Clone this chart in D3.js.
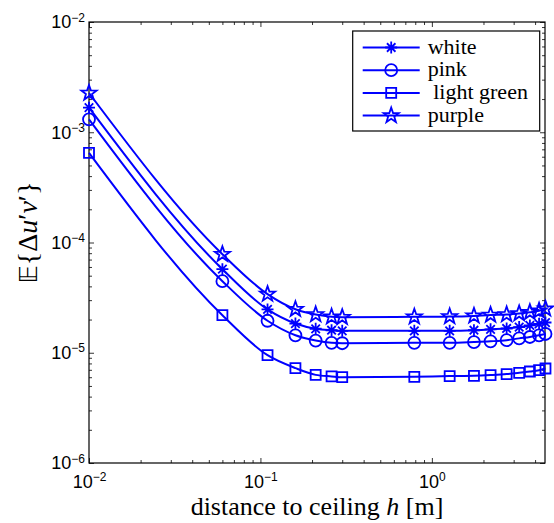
<!DOCTYPE html>
<html>
<head>
<meta charset="utf-8">
<script src="https://cdn.jsdelivr.net/npm/d3@7"></script>
<style>
  body { margin: 0; background: #fff; }
  svg { display: block; }
</style>
</head>
<body>
<div id="chart"></div>
<script>
// distance to ceiling h [m]
const distances = [0.01, 0.06, 0.11, 0.16, 0.21, 0.26, 0.3, 0.79, 1.27, 1.76, 2.2, 2.73, 3.23, 3.73, 4.22, 4.6];

// E{Δu'v'} per colour
const white = [1.67e-3, 5.73e-5, 2.47e-5, 1.84e-5, 1.65e-5, 1.60e-5, 1.58e-5, 1.58e-5, 1.58e-5, 1.60e-5, 1.63e-5, 1.66e-5, 1.71e-5, 1.77e-5, 1.83e-5, 1.88e-5];
const pink = [1.31e-3, 4.46e-5, 1.95e-5, 1.44e-5, 1.29e-5, 1.23e-5, 1.22e-5, 1.23e-5, 1.23e-5, 1.25e-5, 1.27e-5, 1.30e-5, 1.35e-5, 1.39e-5, 1.44e-5, 1.48e-5];
const lightGreen = [6.49e-4, 2.19e-5, 9.5e-6, 7.25e-6, 6.3e-6, 6.1e-6, 6.0e-6, 6.05e-6, 6.14e-6, 6.18e-6, 6.27e-6, 6.4e-6, 6.58e-6, 6.76e-6, 6.95e-6, 7.2e-6];
const purple = [2.27e-3, 7.83e-5, 3.40e-5, 2.48e-5, 2.22e-5, 2.12e-5, 2.1e-5, 2.12e-5, 2.13e-5, 2.16e-5, 2.2e-5, 2.22e-5, 2.27e-5, 2.33e-5, 2.4e-5, 2.5e-5];

const seriesNames = ["white", "pink", " light green", "purple"];
const seriesMarkers = ["asterisk", "circle", "square", "star"];

const xTicks = [0.01, 0.1, 1];
const xTickExp = ["−2", "−1", "0"];
const yTicks = [1e-6, 1e-5, 1e-4, 1e-3, 1e-2];
const yTickExp = ["−6", "−5", "−4", "−3", "−2"];

const margin = {top: 22, right: 9, bottom: 60, left: 89};
const width = 554 - margin.left - margin.right;
const height = 523 - margin.top - margin.bottom;
const blue = "#0000ff";

const svg = d3.select("#chart")
    .append("svg")
    .attr("width", 554)
    .attr("height", 523)
    .append("g")
    .attr("transform", `translate(${margin.left}, ${margin.top})`);

const x = d3.scaleLog().domain([0.01, 4.57]).range([0, width]);
const y = d3.scaleLog().domain([1e-6, 1e-2]).range([height, 0]);

// minor tick values (2..9 per decade)
const minorX = [];
for (let e = -2; e <= 0; e++) for (let k = 2; k <= 9; k++) {
    const v = k * Math.pow(10, e);
    if (v < 4.57) minorX.push(v);
}
const minorY = [];
for (let e = -6; e <= -3; e++) for (let k = 2; k <= 9; k++) minorY.push(k * Math.pow(10, e));

// frame
svg.append("rect")
    .attr("width", width)
    .attr("height", height)
    .attr("fill", "none")
    .attr("stroke", "#000")
    .attr("stroke-width", 1.2);

function tickAxis(axisFn, vals, size, transform) {
    const g = svg.append("g")
        .attr("transform", transform)
        .call(axisFn.tickValues(vals).tickSize(size).tickFormat(() => ""));
    g.select(".domain").remove();
    g.selectAll("line").attr("stroke", "#000").attr("stroke-width", 0.8);
    return g;
}

// ticks pointing inward on all four sides
tickAxis(d3.axisBottom(x), minorX, -3, `translate(0,${height})`);
tickAxis(d3.axisTop(x), minorX, -3, "translate(0,0)");
tickAxis(d3.axisLeft(y), minorY, -3, "translate(0,0)");
tickAxis(d3.axisRight(y), minorY, -3, `translate(${width},0)`);
tickAxis(d3.axisTop(x), xTicks, -5, "translate(0,0)");
tickAxis(d3.axisRight(y), yTicks, -5, `translate(${width},0)`);

const xAxis = svg.append("g")
    .attr("transform", `translate(0,${height})`)
    .call(d3.axisBottom(x).tickValues(xTicks).tickSize(-5).tickPadding(12).tickFormat(() => ""));
xAxis.select(".domain").remove();
xAxis.selectAll("line").attr("stroke", "#000").attr("stroke-width", 0.8);
xAxis.selectAll("text").each(function(d, i) {
    const t = d3.select(this)
        .attr("font-family", "'Liberation Sans', Arial, sans-serif")
        .attr("font-size", 18)
        .attr("fill", "#000");
    t.append("tspan").text("10");
    t.append("tspan").attr("dy", "-0.55em").attr("font-size", 12).text(xTickExp[i]);
});

const yAxis = svg.append("g")
    .call(d3.axisLeft(y).tickValues(yTicks).tickSize(-5).tickPadding(4).tickFormat(() => ""));
yAxis.select(".domain").remove();
yAxis.selectAll("line").attr("stroke", "#000").attr("stroke-width", 0.8);
yAxis.selectAll("text").each(function(d, i) {
    const t = d3.select(this)
        .attr("font-family", "'Liberation Sans', Arial, sans-serif")
        .attr("font-size", 18)
        .attr("fill", "#000");
    t.append("tspan").text("10");
    t.append("tspan").attr("dy", "-0.55em").attr("font-size", 12).text(yTickExp[i]);
});

// axis labels
const xLabel = svg.append("text")
    .attr("x", width / 2)
    .attr("y", height + 52)
    .attr("text-anchor", "middle")
    .attr("font-family", "'Liberation Serif', 'Times New Roman', serif")
    .attr("font-size", 26)
    .attr("fill", "#000");
xLabel.append("tspan").text("distance to ceiling ");
xLabel.append("tspan").attr("font-style", "italic").text("h");
xLabel.append("tspan").text(" [m]");

const yLabel = svg.append("text")
    .attr("transform", `translate(${-52},${height / 2 - 10}) rotate(-90)`)
    .attr("text-anchor", "middle")
    .attr("font-family", "'Liberation Serif', 'DejaVu Serif', serif")
    .attr("font-size", 28)
    .attr("fill", "#000");
yLabel.append("tspan").attr("font-family", "'DejaVu Sans', sans-serif").attr("font-size", 25).text("𝔼");
yLabel.append("tspan").text("{Δ");
yLabel.append("tspan").attr("font-style", "italic").text("u");
yLabel.append("tspan").text("′");
yLabel.append("tspan").attr("font-style", "italic").text("v");
yLabel.append("tspan").text("′}");

// markers
function markerPath(type, cx, cy) {
    const p = d3.path();
    if (type === "circle") {
        p.moveTo(cx + 6, cy);
        p.arc(cx, cy, 6, 0, 2 * Math.PI);
    } else if (type === "square") {
        p.rect(cx - 5, cy - 5, 10, 10);
    } else if (type === "asterisk") {
        const r = 6;
        for (let k = 0; k < 4; k++) {
            const a = k * Math.PI / 4;
            p.moveTo(cx + r * Math.cos(a), cy + r * Math.sin(a));
            p.lineTo(cx - r * Math.cos(a), cy - r * Math.sin(a));
        }
    } else if (type === "star") {
        const R = 8, r = 3.2;
        for (let k = 0; k < 10; k++) {
            const a = -Math.PI / 2 + k * Math.PI / 5;
            const rr = k % 2 === 0 ? R : r;
            if (k === 0) p.moveTo(cx + rr * Math.cos(a), cy + rr * Math.sin(a));
            else p.lineTo(cx + rr * Math.cos(a), cy + rr * Math.sin(a));
        }
        p.closePath();
    }
    return p.toString();
}

const allSeries = [white, pink, lightGreen, purple];
const line = d3.line()
    .curve(d3.curveMonotoneX)
    .x(d => x(d[0]))
    .y(d => y(d[1]));

allSeries.forEach(function(vals, si) {
    const pts = distances.map((d, i) => [d, vals[i]]);
    svg.append("path")
        .datum(pts)
        .attr("fill", "none")
        .attr("stroke", blue)
        .attr("stroke-width", 2)
        .attr("d", line);
    svg.selectAll(null)
        .data(pts)
        .join("path")
        .attr("fill", "none")
        .attr("stroke", blue)
        .attr("stroke-width", 1.8)
        .attr("d", d => markerPath(seriesMarkers[si], x(d[0]), y(d[1])));
});

// legend
const legend = svg.append("g")
    .attr("transform", `translate(${352.7 - margin.left},${31 - margin.top})`);
legend.append("rect")
    .attr("width", 187)
    .attr("height", 100)
    .attr("fill", "#fff")
    .attr("stroke", "#000")
    .attr("stroke-width", 1.2);
seriesNames.forEach(function(name, i) {
    const ly = 16.5 + i * 22.7;
    legend.append("line")
        .attr("x1", 10).attr("x2", 67)
        .attr("y1", ly).attr("y2", ly)
        .attr("stroke", blue)
        .attr("stroke-width", 2);
    legend.append("path")
        .attr("fill", "none")
        .attr("stroke", blue)
        .attr("stroke-width", 1.8)
        .attr("d", markerPath(seriesMarkers[i], 38.5, ly));
    legend.append("text")
        .attr("x", 75)
        .attr("y", ly + 6)
        .attr("font-family", "'Liberation Serif', 'Times New Roman', serif")
        .attr("font-size", 22)
        .attr("fill", "#000")
        .attr("xml:space", "preserve")
        .style("white-space", "pre")
        .text(name);
});
</script>
</body>
</html>
